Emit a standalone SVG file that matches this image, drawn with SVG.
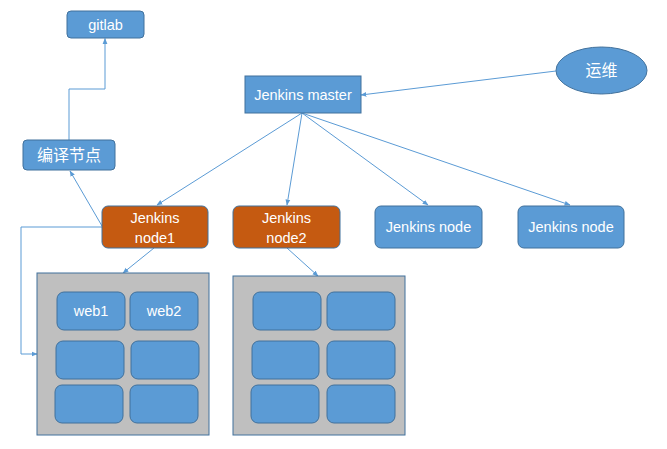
<svg xmlns="http://www.w3.org/2000/svg" width="667" height="449" viewBox="0 0 667 449">
<defs>
<marker id="arr" viewBox="0 0 10 10" refX="9" refY="5" markerWidth="6" markerHeight="6" orient="auto-start-reverse" markerUnits="userSpaceOnUse"><path d="M0,1 L10,5 L0,9 z" fill="#5B9BD5"/></marker>
<style>
.b{fill:#5B9BD5;stroke:#41719C;stroke-width:1}
.o{fill:#C55A11;stroke:#41719C;stroke-width:1}
.g{fill:#BFBFBF;stroke:#41719C;stroke-width:1}
.t{fill:#fff;font-family:"Liberation Sans","Noto Sans CJK SC",sans-serif;font-size:14.5px;text-anchor:middle}
.c{font-size:16px}
.ln{fill:none;stroke:#5B9BD5;stroke-width:1;marker-end:url(#arr)}
</style>
</defs>
<g id="connectors">
<path class="ln" d="M69,140 V89 H105 V38.5"/>
<path class="ln" d="M102,226 L70,171"/>
<path class="ln" d="M102,227 H21 V354 H37"/>
<path class="ln" d="M556,71 L361,95"/>
<path class="ln" d="M302,113 L157,205"/>
<path class="ln" d="M302,113 L287,205"/>
<path class="ln" d="M302,113 L428,205"/>
<path class="ln" d="M302,113 L570,205"/>
<path class="ln" d="M154,248 L123,273"/>
<path class="ln" d="M287,248 L318,276"/>
</g>
<g id="gitlab"><rect class="b" x="67" y="11" width="77" height="27" rx="4"/><text class="t" x="105.5" y="30">gitlab</text></g>
<g id="compile"><rect class="b" x="23" y="140" width="92" height="30" rx="4"/><text class="t c" x="69" y="161">编译节点</text></g>
<g id="master"><rect class="b" x="245" y="76" width="116" height="37"/><text class="t" x="303" y="100">Jenkins master</text></g>
<g id="ops"><ellipse class="b" cx="601.5" cy="70.5" rx="45.5" ry="23.5"/><text class="t c" x="601.5" y="76">运维</text></g>
<g id="node1"><rect class="o" x="102" y="206" width="106" height="42" rx="6"/><text class="t" x="155" y="223">Jenkins</text><text class="t" x="155" y="243">node1</text></g>
<g id="node2"><rect class="o" x="233" y="206" width="107" height="42" rx="6"/><text class="t" x="286.5" y="223">Jenkins</text><text class="t" x="286.5" y="243">node2</text></g>
<g id="node3"><rect class="b" x="375" y="206" width="107" height="42" rx="6"/><text class="t" x="428.5" y="232">Jenkins node</text></g>
<g id="node4"><rect class="b" x="518" y="206" width="106" height="42" rx="6"/><text class="t" x="571" y="232">Jenkins node</text></g>
<g id="host1">
<rect class="g" x="37" y="273" width="172" height="162"/>
<rect class="b" x="57" y="292" width="68" height="38" rx="7"/><text class="t" x="91" y="316">web1</text>
<rect class="b" x="130" y="292" width="68" height="38" rx="7"/><text class="t" x="164" y="316">web2</text>
<rect class="b" x="56" y="341" width="68" height="38" rx="7"/>
<rect class="b" x="131" y="341" width="68" height="38" rx="7"/>
<rect class="b" x="55" y="385" width="68" height="38" rx="7"/>
<rect class="b" x="130" y="385" width="68" height="38" rx="7"/>
</g>
<g id="host2">
<rect class="g" x="233" y="276" width="172" height="159"/>
<rect class="b" x="253" y="292" width="68" height="38" rx="7"/>
<rect class="b" x="327" y="292" width="68" height="38" rx="7"/>
<rect class="b" x="252" y="341" width="67" height="38" rx="7"/>
<rect class="b" x="327" y="341" width="68" height="38" rx="7"/>
<rect class="b" x="251" y="385" width="68" height="38" rx="7"/>
<rect class="b" x="327" y="385" width="68" height="38" rx="7"/>
</g>
</svg>
